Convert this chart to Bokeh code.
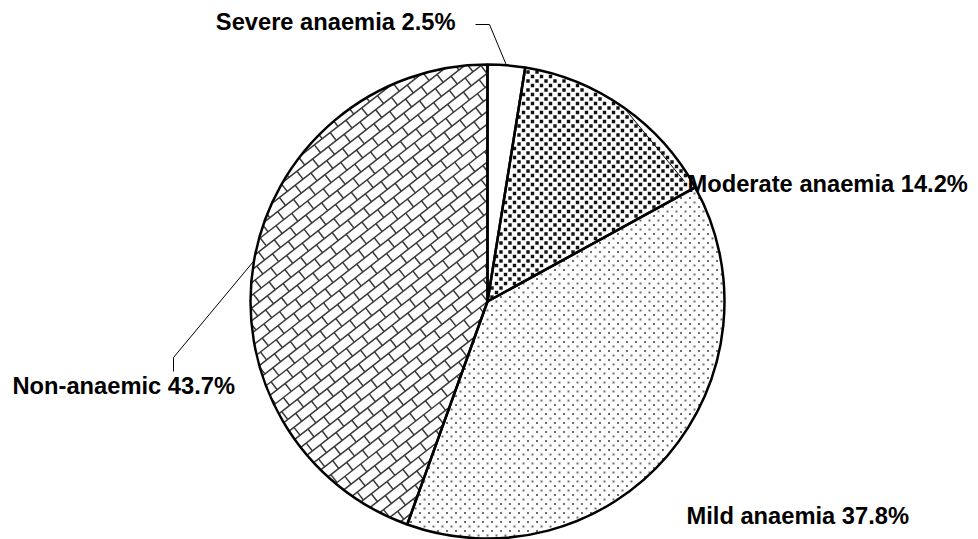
import math

from bokeh.core.properties import value
from bokeh.embed import file_html
from bokeh.models import ColumnDataSource, Range1d
from bokeh.plotting import figure
from bokeh.resources import INLINE

# Prevalence of anaemia (percent of respondents)
categories = ["Severe anaemia", "Moderate anaemia", "Mild anaemia", "Non-anaemic"]
percent = [2.5, 14.2, 37.8, 43.7]

W, H = 978, 539
CX, CY, R = 487, H - 301, 237

total = sum(percent)
starts, ends = [], []
cum = 0.0
for v in percent:
    starts.append(math.pi / 2 - 2 * math.pi * cum / total)
    cum += v
    ends.append(math.pi / 2 - 2 * math.pi * cum / total)


def half_planes(i):
    """Edge directions of slice i (it sweeps counter-clockwise from end to start)."""
    ue = (math.cos(ends[i]), math.sin(ends[i]))
    us = (math.cos(starts[i]), math.sin(starts[i]))
    return ue, us


def inside(i, x, y, margin=0.0):
    dx, dy = x - CX, y - CY
    if math.hypot(dx, dy) > R - margin:
        return False
    ue, us = half_planes(i)
    return ue[0] * dy - ue[1] * dx >= margin and dx * us[1] - dy * us[0] >= margin


def clip(i, x0, y0, x1, y1):
    """Clip a segment to the (convex) slice i; returns None when nothing is left."""
    lo, hi = 0.0, 1.0
    ddx, ddy = x1 - x0, y1 - y0
    ue, us = half_planes(i)
    for f0, df in (
        (ue[0] * (y0 - CY) - ue[1] * (x0 - CX), ue[0] * ddy - ue[1] * ddx),
        ((x0 - CX) * us[1] - (y0 - CY) * us[0], ddx * us[1] - ddy * us[0]),
    ):
        if abs(df) < 1e-12:
            if f0 < 0:
                return None
            continue
        t = -f0 / df
        if df > 0:
            lo = max(lo, t)
        else:
            hi = min(hi, t)
    ex, ey = x0 - CX, y0 - CY
    a = ddx * ddx + ddy * ddy
    b = 2 * (ex * ddx + ey * ddy)
    c = ex * ex + ey * ey - R * R
    disc = b * b - 4 * a * c
    if disc <= 0:
        return None
    r = math.sqrt(disc)
    lo = max(lo, (-b - r) / (2 * a))
    hi = min(hi, (-b + r) / (2 * a))
    if hi - lo <= 1e-6:
        return None
    return ([x0 + lo * ddx, x0 + hi * ddx], [y0 + lo * ddy, y0 + hi * ddy])


def dot_fill(i, ax, bx, by, size, color):
    xs, ys = [], []
    n = int(2 * R / min(ax, by)) + 4
    for j in range(-n, n + 1):
        for k in range(-n, n + 1):
            x = CX + k * ax + j * bx
            y = CY + j * by
            if inside(i, x, y, margin=size / 2):
                xs.append(x)
                ys.append(y)
    p.scatter(xs, ys, marker="square", size=size, fill_color=color, line_color=None)


def brick_fill(i, angle_deg, row, length, color, width):
    al = math.radians(angle_deg)
    u = (math.cos(al), math.sin(al))
    v = (-math.sin(al), math.cos(al))
    seg_x, seg_y = [], []
    n_rows = int(R / row) + 2
    n_cols = int(R / length) + 2
    for k in range(-n_rows, n_rows + 1):
        ox, oy = CX + k * row * v[0], CY + k * row * v[1]
        s = clip(i, ox - (R + 5) * u[0], oy - (R + 5) * u[1],
                 ox + (R + 5) * u[0], oy + (R + 5) * u[1])
        if s:
            seg_x.append(s[0])
            seg_y.append(s[1])
        shift = 0.5 * (k % 2)
        for j in range(-n_cols, n_cols + 1):
            d = (j + shift) * length
            px, py = ox + d * u[0], oy + d * u[1]
            s = clip(i, px, py, px + row * v[0], py + row * v[1])
            if s:
                seg_x.append(s[0])
                seg_y.append(s[1])
    p.multi_line(seg_x, seg_y, line_color=color, line_width=width)


p = figure(width=W, height=H, output_backend="svg", toolbar_location=None,
           x_range=Range1d(0, W), y_range=Range1d(0, H),
           x_axis_location=None, y_axis_location=None, min_border=0,
           outline_line_color=None, background_fill_color="white",
           border_fill_color="white")
p.grid.visible = False

src = ColumnDataSource(dict(x=[CX] * len(percent), y=[CY] * len(percent),
                            s=starts, e=ends))
wedge_args = dict(x="x", y="y", radius=R, radius_units="screen", start_angle="s",
                  end_angle="e", direction="clock", source=src)
p.wedge(fill_color="white", line_color=None, **wedge_args)

# Slice textures: black squares, sparse grey dots, diagonal brick
dot_fill(1, 9, 4.5, 4.5, 3.4, "#111111")
dot_fill(2, 9, 4.5, 4.5, 2, "#6e6e6e")
brick_fill(3, 38, 10, 20, "#3a3a3a", 1.5)

p.wedge(fill_alpha=0, line_color="black", line_width=2.5, **wedge_args)

# Leader lines from each slice's mid-point on the rim to its label
mid = [(s + e) / 2 for s, e in zip(starts, ends)]
rim = [(CX + R * math.cos(a), CY + R * math.sin(a)) for a in mid]

leader_xs = [
    [rim[0][0], 489, 475],
    [rim[1][0], 684],
    [rim[3][0], 173, 173],
]
leader_ys = [
    [rim[0][1], H - 24, H - 24],
    [rim[1][1], H - 181],
    [rim[3][1], H - 357, H - 371],
]
p.multi_line(xs=leader_xs, ys=leader_ys, line_color="black", line_width=1)

labels = [f"{c} {v}%" for c, v in zip(categories, percent)]
label_x = [455, 687, 686, 12]
label_y = [H - 21, H - 183, H - 515, H - 385]
align = ["right", "left", "left", "left"]
p.text(x=label_x, y=label_y, text=labels, text_align=align, text_baseline="middle",
       text_font=value("Liberation Sans"), text_font_style="bold",
       text_font_size="23.7px", text_color="black")

open("out.html", "w").write(file_html(p, INLINE))
